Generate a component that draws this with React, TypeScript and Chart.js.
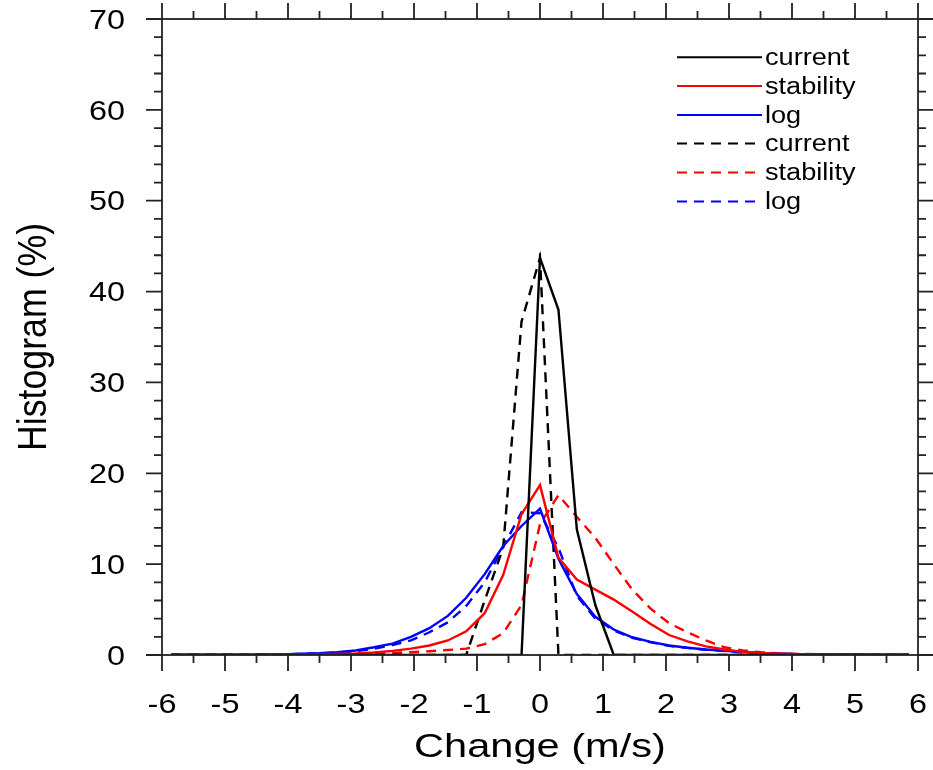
import React, { useEffect, useRef } from "react";
import { Chart, registerables } from "chart.js";

Chart.register(...registerables);

// Bin centres (m/s)
const X_CENTERS = [
  -5.854, -5.561, -5.268, -4.976, -4.683, -4.39, -4.098, -3.805, -3.512, -3.22,
  -2.927, -2.634, -2.341, -2.049, -1.756, -1.463, -1.171, -0.878, -0.585, -0.293,
  0,
  0.293, 0.585, 0.878, 1.171, 1.463, 1.756, 2.049, 2.341, 2.634, 2.927,
  3.22, 3.512, 3.805, 4.098, 4.39, 4.683, 4.976, 5.268, 5.561, 5.854,
];

const CURRENT_SOLID = [
  0, 0, 0, 0, 0, 0, 0, 0, 0, 0,
  0, 0, 0, 0, 0, 0, 0, 0, 0, 0,
  43.7,
  38.0, 13.8, 5.5, 0, 0, 0, 0, 0, 0, 0,
  0, 0, 0, 0, 0, 0, 0, 0, 0, 0,
];

const STABILITY_SOLID = [
  0.02, 0.02, 0.02, 0.03, 0.03, 0.04, 0.05, 0.06, 0.08, 0.12,
  0.17, 0.28, 0.45, 0.7, 1.05, 1.6, 2.6, 4.6, 8.8, 15.5,
  18.7,
  10.7, 8.3, 7.2, 6.1, 4.8, 3.4, 2.2, 1.5, 0.95, 0.6,
  0.35, 0.22, 0.15, 0.1, 0.07, 0.05, 0.04, 0.03, 0.02, 0.02,
];

const LOG_SOLID = [
  0.02, 0.02, 0.03, 0.03, 0.04, 0.05, 0.07, 0.13, 0.2, 0.32,
  0.5, 0.85, 1.25, 2.0, 2.95, 4.3, 6.3, 8.9, 12.0, 14.2,
  16.1,
  10.6, 6.7, 4.2, 2.8, 1.95, 1.45, 1.05, 0.8, 0.6, 0.47,
  0.33, 0.22, 0.15, 0.1, 0.08, 0.06, 0.05, 0.04, 0.03, 0.03,
];

const CURRENT_DASHED = [
  0, 0, 0, 0, 0, 0, 0, 0, 0, 0,
  0, 0, 0, 0, 0, 0, 0, 6.0, 11.8, 36.7,
  43.7,
  0, 0, 0, 0, 0, 0, 0, 0, 0, 0,
  0, 0, 0, 0, 0, 0, 0, 0, 0, 0,
];

const STABILITY_DASHED = [
  0.01, 0.01, 0.01, 0.01, 0.02, 0.02, 0.02, 0.03, 0.04, 0.06,
  0.1, 0.15, 0.22, 0.32, 0.42, 0.55, 0.7, 1.2, 2.4, 5.5,
  14.4,
  17.6, 15.2, 12.9, 10.0, 7.2, 5.1, 3.5, 2.5, 1.6, 0.85,
  0.5, 0.3, 0.18, 0.12, 0.08, 0.05, 0.04, 0.03, 0.02, 0.02,
];

const LOG_DASHED = [
  0.02, 0.02, 0.02, 0.03, 0.04, 0.05, 0.07, 0.11, 0.17, 0.27,
  0.42, 0.7, 1.1, 1.6, 2.5, 3.6, 5.4, 8.0, 11.9, 15.7,
  15.6,
  11.8, 6.5, 4.0, 2.7, 1.9, 1.4, 1.0, 0.78, 0.58, 0.44,
  0.3, 0.2, 0.14, 0.1, 0.07, 0.05, 0.04, 0.03, 0.03, 0.02,
];

const SERIES_LABELS = ["current", "stability", "log", "current", "stability", "log"];

const X_TICKS = [-6, -5, -4, -3, -2, -1, 0, 1, 2, 3, 4, 5, 6];
const X_TICK_LABELS = ["-6", "-5", "-4", "-3", "-2", "-1", "0", "1", "2", "3", "4", "5", "6"];
const Y_TICKS = [0, 10, 20, 30, 40, 50, 60, 70];
const Y_TICK_LABELS = ["0", "10", "20", "30", "40", "50", "60", "70"];

const X_TITLE = "Change (m/s)";
const Y_TITLE = "Histogram (%)";

const FONT = '"Liberation Sans", Arial, Helvetica, sans-serif';
const DASH = [10, 7];

function toPoints(vals: number[]) {
  return X_CENTERS.map((x, i) => ({ x, y: vals[i] }));
}

function stretchedText(
  ctx: CanvasRenderingContext2D,
  text: string,
  x: number,
  y: number,
  align: CanvasTextAlign,
  size: number,
  sx: number
) {
  ctx.save();
  ctx.translate(x, y);
  ctx.scale(sx, 1);
  ctx.font = `${size}px ${FONT}`;
  ctx.textAlign = align;
  ctx.textBaseline = "alphabetic";
  ctx.fillStyle = "#000";
  ctx.fillText(text, 0, 0);
  ctx.restore();
}

const nclPlugin = {
  id: "nclFrame",
  afterDatasetsDraw(chart: any) {
    const { ctx, chartArea: a, scales } = chart;
    const xs = scales.x;
    const ys = scales.y;
    ctx.save();
    // frame
    ctx.strokeStyle = "#222";
    ctx.lineWidth = 1.8;
    ctx.setLineDash([]);
    ctx.strokeRect(a.left, a.top, a.right - a.left, a.bottom - a.top);
    // tick marks (outward)
    const major = 16;
    const minor = 8;
    ctx.beginPath();
    for (let i = 0; i <= 24; i++) {
      const v = -6 + i * 0.5;
      const px = xs.getPixelForValue(v);
      const len = i % 2 === 0 ? major : minor;
      ctx.moveTo(px, a.bottom);
      ctx.lineTo(px, a.bottom + len);
      ctx.moveTo(px, a.top);
      ctx.lineTo(px, a.top - len);
    }
    for (let i = 0; i <= 35; i++) {
      const v = i * 2;
      const py = ys.getPixelForValue(v);
      const len = v % 10 === 0 ? major : minor;
      ctx.moveTo(a.left, py);
      ctx.lineTo(a.left - len, py);
      ctx.moveTo(a.right, py);
      ctx.lineTo(a.right + len, py);
    }
    ctx.stroke();

    // tick labels
    X_TICKS.forEach((v, i) => {
      stretchedText(ctx, X_TICK_LABELS[i], xs.getPixelForValue(v), 713, "center", 27, 1.2);
    });
    Y_TICKS.forEach((v, i) => {
      stretchedText(ctx, Y_TICK_LABELS[i], 125, ys.getPixelForValue(v) + 9.7, "right", 27, 1.2);
    });

    // axis titles
    stretchedText(ctx, X_TITLE, (a.left + a.right) / 2, 757, "center", 33, 1.26);
    ctx.save();
    ctx.translate(46, (a.top + a.bottom) / 2);
    ctx.rotate(-Math.PI / 2);
    ctx.scale(1.05, 1.2);
    ctx.font = `34px ${FONT}`;
    ctx.textAlign = "center";
    ctx.textBaseline = "alphabetic";
    ctx.fillStyle = "#000";
    ctx.fillText(Y_TITLE, 0, 0);
    ctx.restore();

    // legend
    const ds = chart.data.datasets;
    const x0 = 677;
    const x1 = 762;
    const rowY = [57.3, 86, 115, 143.5, 172.5, 201.5];
    ds.forEach((d: any, i: number) => {
      const y = rowY[i];
      ctx.save();
      ctx.strokeStyle = d.borderColor;
      ctx.lineWidth = 2;
      ctx.setLineDash(d.borderDash || []);
      ctx.beginPath();
      ctx.moveTo(x0, y);
      ctx.lineTo(x1, y);
      ctx.stroke();
      ctx.restore();
      stretchedText(ctx, d.label, x1 + 3, y + 7.5, "left", 23, 1.18);
    });
    ctx.restore();
  },
};

export default function App() {
  const canvasRef = useRef<HTMLCanvasElement | null>(null);

  useEffect(() => {
    if (!canvasRef.current) return;
    const mk = (label: string, vals: number[], color: string, dashed: boolean) => ({
      label,
      data: toPoints(vals),
      borderColor: color,
      backgroundColor: color,
      borderWidth: 2.4,
      borderDash: dashed ? DASH : [],
      pointRadius: 0,
      tension: 0,
      fill: false,
    });
    const chart = new Chart(canvasRef.current, {
      type: "line",
      data: {
        datasets: [
          mk(SERIES_LABELS[0], CURRENT_SOLID, "#000000", false),
          mk(SERIES_LABELS[1], STABILITY_SOLID, "#ff0000", false),
          mk(SERIES_LABELS[2], LOG_SOLID, "#0000ff", false),
          mk(SERIES_LABELS[3], CURRENT_DASHED, "#000000", true),
          mk(SERIES_LABELS[4], STABILITY_DASHED, "#ff0000", true),
          mk(SERIES_LABELS[5], LOG_DASHED, "#0000ff", true),
        ],
      },
      options: {
        responsive: false,
        animation: false,
        layout: { padding: { left: 162, right: 15, top: 19, bottom: 115 } },
        plugins: {
          legend: { display: false },
          tooltip: { enabled: false },
          title: { display: false },
        },
        scales: {
          x: { type: "linear", min: -6, max: 6, display: false },
          y: { type: "linear", min: 0, max: 70, display: false },
        },
      },
      plugins: [nclPlugin],
    });
    return () => chart.destroy();
  }, []);

  return (
    <div style={{ position: "fixed", left: 0, top: 0, width: 933, height: 770, background: "#fff" }}>
      <canvas ref={canvasRef} width={933} height={770} style={{ display: "block" }} />
    </div>
  );
}
